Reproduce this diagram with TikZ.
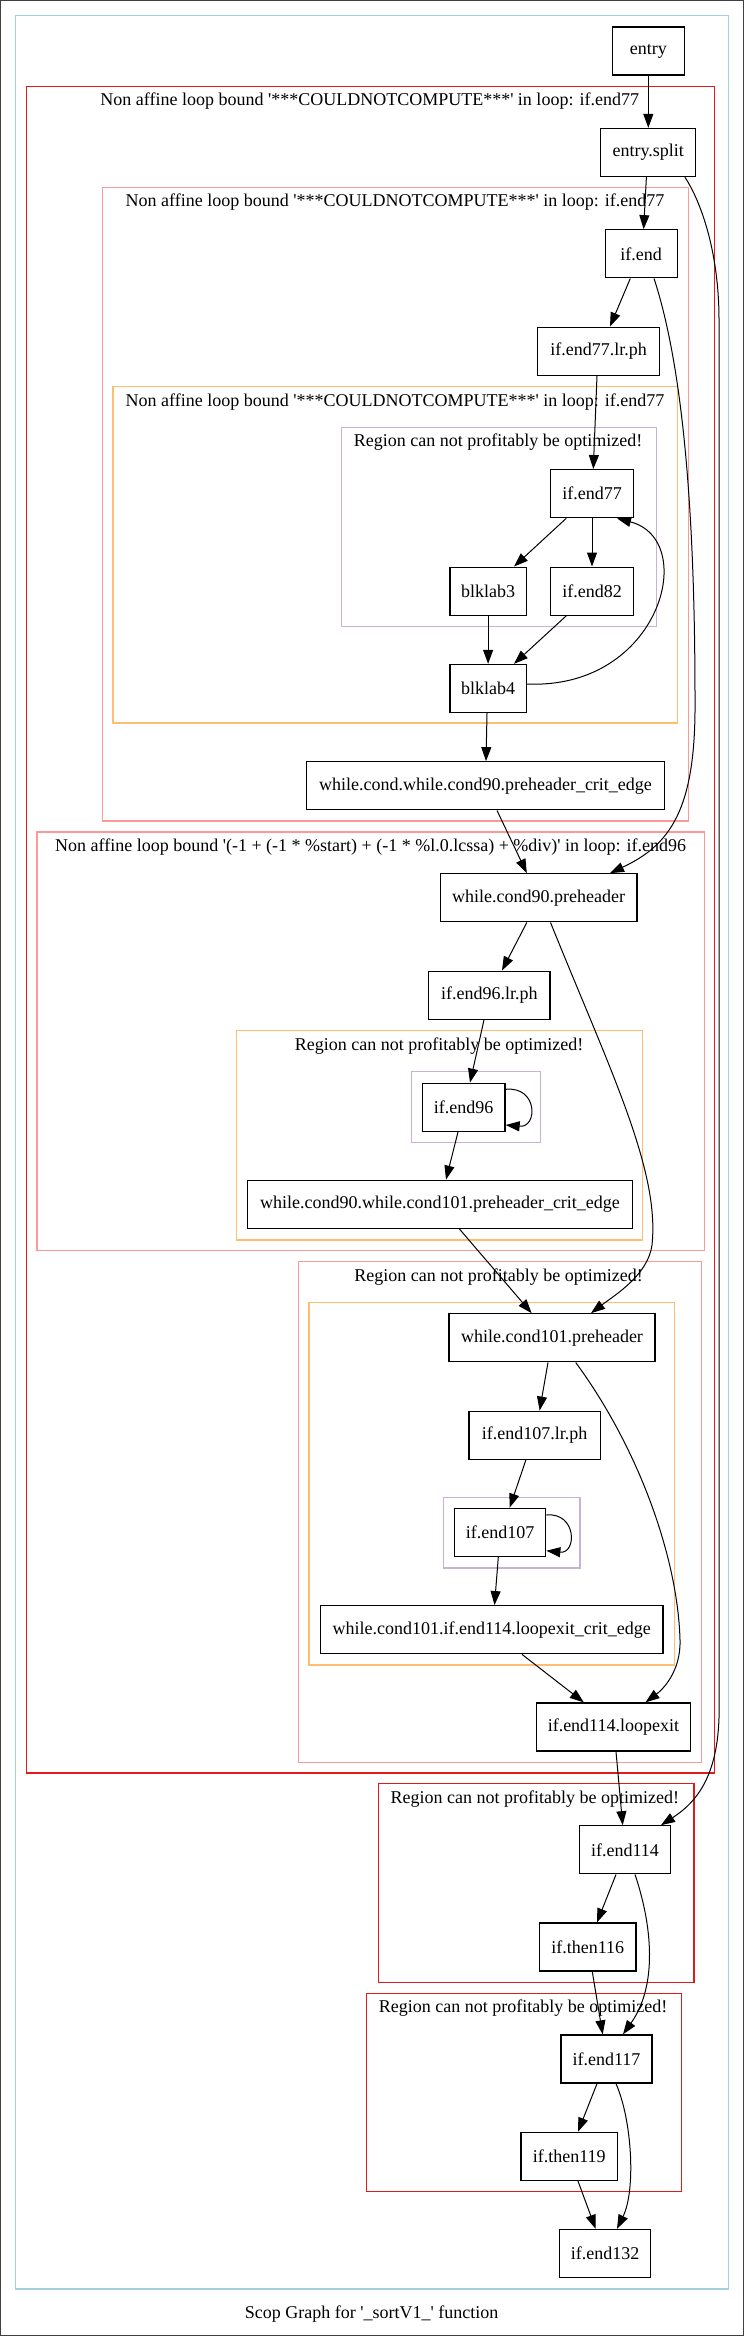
\documentclass[tikz,border=0pt]{standalone}
\usepackage{fontspec}
\setmainfont{Liberation Serif}[Ligatures=TeXOff]
\usetikzlibrary{arrows.meta,calc}
\definecolor{cblue}{HTML}{A6CEE3}
\definecolor{cred}{HTML}{E31A1C}
\definecolor{cpink}{HTML}{FB9A99}
\definecolor{corange}{HTML}{FDBF6F}
\definecolor{cpurple}{HTML}{CAB2D6}
\definecolor{cframe}{HTML}{404040}
\begin{document}
\begin{tikzpicture}[x=0.75pt,y=-0.75pt,
  every node/.style={font=\fontsize{13.5}{16}\selectfont},
  blk/.style={draw=black, line width=1pt, minimum height=36pt, inner sep=0pt},
  nw/.style={minimum width=#1*0.75pt},
  conn/.style={draw=black, line width=0.75pt, -{Triangle[length=10.5pt,width=7.5pt]}},
  clus/.style={line width=0.9pt},
  lbl/.style={inner sep=0pt}]
\useasboundingbox (0,0) rectangle (744,2336);
\draw[cframe, line width=1pt] (0.5,0.5) rectangle (743.5,2335.5);

% clusters
\draw[clus, cblue] (15.7,15.7) rectangle (728.5,2289);
\draw[clus, cred] (26.6,86.7) rectangle (714.8,1773);
\node[lbl] (l1) at (369.7,101) {Non affine loop bound '***COULDNOTCOMPUTE***' in loop: if.end77};
\draw[clus, cpink] (102.5,187.7) rectangle (688.2,821);
\node[lbl] (l2) at (395,202.3) {Non affine loop bound '***COULDNOTCOMPUTE***' in loop: if.end77};
\draw[clus, corange] (113,386.7) rectangle (677.3,723);
\node[lbl] (l3) at (395,401.7) {Non affine loop bound '***COULDNOTCOMPUTE***' in loop: if.end77};
\draw[clus, cpurple] (341.7,427.7) rectangle (656.4,626.7);
\node[lbl] (l4) at (498,442.3) {Region can not profitably be optimized!};
\draw[clus, cpink] (37,832) rectangle (704.3,1250.3);
\node[lbl] (l5) at (370.7,846.7) {Non affine loop bound '(-1 + (-1 * \%start) + (-1 * \%l.0.lcssa) + \%div)' in loop: if.end96};
\draw[clus, corange] (236.8,1030.7) rectangle (642.6,1240);
\node[lbl] (l6) at (439,1045.7) {Region can not profitably be optimized!};
\draw[clus, cpurple] (411.5,1071.7) rectangle (540.1,1142.7);
\draw[clus, cpink] (298.5,1261.5) rectangle (701.5,1762.3);
\node[lbl] (l8) at (498.6,1276.7) {Region can not profitably be optimized!};
\draw[clus, corange] (309,1302.7) rectangle (674.4,1665);
\draw[clus, cpurple] (443.8,1497.3) rectangle (580,1568);
\draw[clus, cred] (378.7,1783.6) rectangle (693.9,1982.4);
\node[lbl] (l11) at (534.9,1798.6) {Region can not profitably be optimized!};
\draw[clus, cred] (366.4,1993.3) rectangle (681.5,2191.7);
\node[lbl] (l12) at (523,2008.2) {Region can not profitably be optimized!};

% nodes
\node[blk,nw=72] (entry) at (648.3,51) {entry};
\node[blk,nw=95] (esplit) at (648.3,152.5) {entry.split};
\node[blk,nw=72] (ifend) at (641.2,253.8) {if.end};
\node[blk,nw=122] (lrph77) at (598.7,351.2) {if.end77.lr.ph};
\node[blk,nw=83] (ifend77) at (592,493.7) {if.end77};
\node[blk,nw=76.4] (blk3) at (488.1,591.2) {blklab3};
\node[blk,nw=83] (ifend82) at (592,591.2) {if.end82};
\node[blk,nw=76.4] (blk4) at (488.1,688.5) {blklab4};
\node[blk,nw=358] (crit1) at (485.5,785.8) {while.cond.while.cond90.preheader\_crit\_edge};
\node[blk,nw=196.5] (wc90) at (538.7,897.8) {while.cond90.preheader};
\node[blk,nw=121.5] (lrph96) at (489.3,995.2) {if.end96.lr.ph};
\node[blk,nw=82.6] (ifend96) at (463.7,1107.3) {if.end96};
\node[blk,nw=384.5] (crit2) at (440,1204.3) {while.cond90.while.cond101.preheader\_crit\_edge};
\node[blk,nw=206] (wc101) at (552,1337.8) {while.cond101.preheader};
\node[blk,nw=131.5] (lrph107) at (534.7,1435.2) {if.end107.lr.ph};
\node[blk,nw=91] (ifend107) at (500.2,1532.3) {if.end107};
\node[blk,nw=342.6] (crit3) at (491.7,1629.7) {while.cond101.if.end114.loopexit\_crit\_edge};
\node[blk,nw=154.3] (loopexit) at (613.4,1727) {if.end114.loopexit};
\node[blk,nw=91] (ifend114) at (625,1849.8) {if.end114};
\node[blk,nw=96.4] (then116) at (587.8,1947.1) {if.then116};
\node[blk,nw=91] (ifend117) at (606.5,2059) {if.end117};
\node[blk,nw=96.4] (then119) at (569.3,2156.4) {if.then119};
\node[blk,nw=91] (ifend132) at (605.1,2253.5) {if.end132};

\node[lbl] (caption) at (371.6,2314) {Scop Graph for '\_sortV1\_' function};

% edges
\draw[conn] (entry.south) -- (esplit.north);
\draw[conn] ($(esplit.south)+(-1.9,0)$) -- ($(ifend.north)+(2.4,0)$);
\draw[conn] ($(esplit.south)+(36.6,0)$) .. controls (700,200) and (719,250) .. (719,320) -- (719,1700) .. controls (721,1770) and (700,1800) .. ($(ifend114.north)+(36,0)$);
\draw[conn] ($(ifend.south)+(-10.9,0)$) -- ($(lrph77.north)+(11.3,0)$);
\draw[conn] ($(ifend.south)+(12.8,0)$) .. controls (684,370) and (695,520) .. (695,700) .. controls (696,810) and (670,845) .. ($(wc90.north)+(71.3,0)$);
\draw[conn] ($(lrph77.south)+(-1.7,0)$) -- ($(ifend77.north)+(1.3,0)$);
\draw[conn] ($(ifend77.south)+(-25.8,0)$) -- ($(blk3.north)+(25.9,0)$);
\draw[conn] (ifend77.south) -- (ifend82.north);
\draw[conn] (blk3.south) -- (blk4.north);
\draw[conn] ($(ifend82.south)+(-25.8,0)$) -- ($(blk4.north)+(25.9,0)$);
\draw[conn] ($(blk4.east)+(0,-4.5)$) .. controls (660,690) and (700,540) .. ($(ifend77.south)+(25,0)$);
\draw[conn] ($(blk4.south)+(-1.1,0)$) -- ($(crit1.north)+(0.5,0)$);
\draw[conn] ($(crit1.south)+(11.5,0)$) -- ($(wc90.north)+(-11.9,0)$);
\draw[conn] ($(wc90.south)+(-11.9,0)$) -- ($(lrph96.north)+(12.7,0)$);
\draw[conn] ($(wc90.south)+(11.8,0)$) .. controls (610,1070) and (660,1170) .. (652,1245) .. controls (648,1275) and (615,1295) .. ($(wc101.north)+(39,0)$);
\draw[conn] ($(lrph96.south)+(-5.3,0)$) -- ($(ifend96.north)+(6.3,0)$);
\draw[conn] ($(ifend96.east)+(0,-18)$) .. controls (538,1086) and (538,1128) .. ($(ifend96.east)+(0,17.7)$);
\draw[conn] ($(ifend96.south)+(-5.7,0)$) -- ($(crit2.north)+(6,0)$);
\draw[conn] ($(crit2.south)+(19.4,0)$) -- ($(wc101.north)+(-20.4,0)$);
\draw[conn] ($(wc101.south)+(-4,0)$) -- ($(lrph107.north)+(4.9,0)$);
\draw[conn] ($(wc101.south)+(23.7,0)$) .. controls (640,1450) and (678,1560) .. (680,1640) .. controls (681,1672) and (662,1690) .. ($(loopexit.north)+(32.1,0)$);
\draw[conn] ($(lrph107.south)+(-8.8,0)$) -- ($(ifend107.north)+(9.5,0)$);
\draw[conn] ($(ifend107.east)+(0,-17.3)$) .. controls (577,1512) and (577,1554) .. ($(ifend107.east)+(0,18.4)$);
\draw[conn] ($(ifend107.south)+(-1.9,0)$) -- ($(crit3.north)+(2.8,0)$);
\draw[conn] ($(crit3.south)+(30.3,0)$) -- ($(loopexit.north)+(-29.6,0)$);
\draw[conn] ($(loopexit.south)+(2.6,0)$) -- ($(ifend114.north)+(-2.3,0)$);
\draw[conn] ($(ifend114.south)+(-9,0)$) -- ($(then116.north)+(9.2,0)$);
\draw[conn] ($(ifend114.south)+(10,0)$) .. controls (652,1925) and (658,1985) .. ($(ifend117.north)+(16.5,0)$);
\draw[conn] ($(then116.south)+(4.5,0)$) -- ($(ifend117.north)+(-3.8,0)$);
\draw[conn] ($(ifend117.south)+(-9.5,0)$) -- ($(then119.north)+(8.7,0)$);
\draw[conn] ($(ifend117.south)+(9.5,0)$) .. controls (632,2120) and (636,2190) .. ($(ifend132.north)+(11.9,0)$);
\draw[conn] ($(then119.south)+(8.7,0)$) -- ($(ifend132.north)+(-9.5,0)$);
\end{tikzpicture}
\end{document}
